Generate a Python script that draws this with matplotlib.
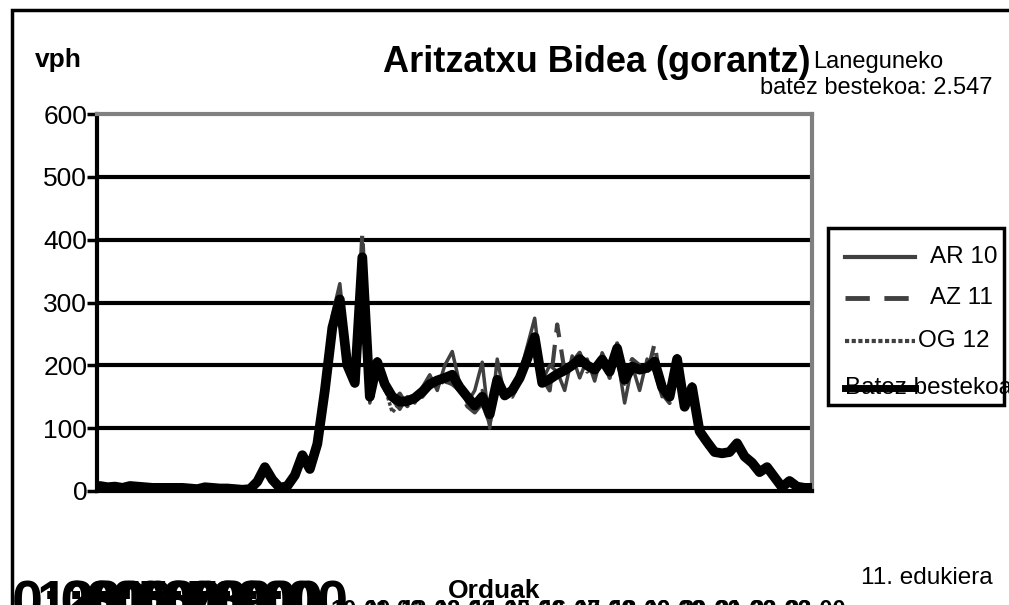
import matplotlib
matplotlib.use("Agg")
import matplotlib.pyplot as plt
from matplotlib.lines import Line2D
from matplotlib.patches import Rectangle

plt.rcParams['font.family'] = ['Liberation Sans', 'DejaVu Sans']

avg = [8,6,7,5,8,7,6,5,5,5,5,5,4,3,6,5,4,4,3,2,3,15,38,18,5,8,25,57,35,75,
       160,260,305,200,172,372,150,205,170,150,142,143,148,158,170,176,180,185,165,150,
       136,150,122,177,152,160,180,210,245,172,178,186,192,200,210,200,193,209,190,227,
       177,198,193,196,206,165,150,210,134,165,95,78,62,60,62,76,55,45,30,38,
       22,6,16,7,5,5]
ar10 = [10,5,8,6,7,9,5,6,4,6,5,6,3,4,7,4,5,3,4,2,4,12,35,20,6,10,28,60,33,80,
        175,280,330,215,180,360,140,200,160,145,130,150,140,165,185,160,200,222,170,140,
        160,205,100,210,150,165,185,230,275,175,200,190,160,215,180,210,175,220,195,215,
        140,200,160,210,190,150,170,200,140,160,100,70,65,55,60,70,50,42,28,35,
        20,5,12,5,4,4]
az11 = [7,7,6,5,9,6,7,5,6,4,5,5,5,3,5,6,4,5,2,2,3,18,40,16,4,7,22,55,36,70,
        150,250,290,195,168,410,160,210,180,140,155,135,150,150,165,170,175,170,160,135,
        125,140,108,165,155,150,175,200,235,180,160,265,190,205,220,190,200,215,180,235,
        180,210,200,185,235,155,140,215,128,170,90,82,58,62,58,80,58,48,32,40,
        24,8,18,8,6,5]
og12 = [8,6,7,5,8,6,6,5,5,5,5,4,4,3,6,5,4,4,3,2,3,15,37,18,5,8,26,56,36,76,
        158,255,300,200,170,350,145,200,165,125,140,150,145,160,165,180,170,190,160,145,
        130,160,115,170,150,155,180,215,240,170,180,190,200,195,215,200,190,205,185,230,
        170,195,200,190,200,170,150,205,130,170,95,78,62,60,62,76,55,45,30,38,
        22,6,16,7,5,5]
yticks = [0, 100, 200, 300, 400, 500, 600]
hour_labels = [f"{h}:00" for h in range(24)]

W, H = 1009, 605
fig = plt.figure(figsize=(W/100, H/100), dpi=100)
ax = fig.add_axes([97/W, 1-491/H, (812-97)/W, (491-114)/H])

x = list(range(len(avg)))
grey = '#404040'
ax.plot(x, ar10, color=grey, lw=2.5, zorder=3)
ax.plot(x, az11, color=grey, lw=3, ls=(0, (5, 3)), zorder=3)
ax.plot(x, og12, color=grey, lw=2.5, ls=(0, (1, 0.6)), zorder=3)
ax.plot(x, avg, color='black', lw=7, solid_joinstyle='round', solid_capstyle='round', zorder=4)

ax.set_xlim(-0.4, len(avg) - 1)
ax.set_ylim(0, 600)
ax.set_yticks(yticks)
ax.set_yticklabels([str(v) for v in yticks], fontsize=19)
ax.tick_params(axis='y', length=7, width=2.5, direction='out', pad=0, colors='black')
ax.set_xticks([])
for v in yticks[1:-1]:
    ax.axhline(v, color='black', lw=3, zorder=1)
ax.spines['left'].set_linewidth(3)
ax.spines['left'].set_color('black')
ax.spines['bottom'].set_linewidth(3)
ax.spines['bottom'].set_color('black')
ax.spines['top'].set_linewidth(3)
ax.spines['top'].set_color('#808080')
ax.spines['right'].set_linewidth(3)
ax.spines['right'].set_color('#808080')

# outer frame
fig.patches.append(Rectangle((12/W, -0.1), 1.2, 1 - 10/H + 0.1, transform=fig.transFigure,
                             fill=False, lw=2.5, edgecolor='black'))

# texts
fig.text(597/W, 1-62/H, "Aritzatxu Bidea (gorantz)", fontsize=26, fontweight='bold',
         ha='center', va='center')
fig.text(58/W, 1-60/H, "vph", fontsize=19, fontweight='bold', ha='center', va='center')
fig.text(878/W, 1-62/H, "Laneguneko", fontsize=17, ha='center', va='center')
fig.text(876/W, 1-88/H, "batez bestekoa: 2.547", fontsize=17, ha='center', va='center')
fig.text(927/W, 1-578/H, "11. edukiera", fontsize=17.5, ha='center', va='center')
fig.text(494/W, 1-591/H, "Orduak", fontsize=19, fontweight='bold', ha='center', va='center')

# clipped, overlapping hour labels at the bottom edge
for i, lab in enumerate(hour_labels[:10]):
    fig.text((12 + i * 25)/W, 1-580/H, lab, fontsize=40, fontweight='bold',
             ha='left', va='top')
for i, lab in enumerate(hour_labels[10:]):
    fig.text((330 + i * 35)/W, 1-599/H, lab, fontsize=17, fontweight='bold',
             ha='left', va='top')

# legend drawn manually
fig.patches.append(Rectangle((828/W, 1-405/H), (1004-828)/W, (405-228)/H,
                             transform=fig.transFigure, fill=False, lw=2.5,
                             edgecolor='black', facecolor='white'))
leg_items = [("AR 10", dict(color=grey, lw=3, ls='-'), 257, 930),
             ("AZ 11", dict(color=grey, lw=3.5, ls=(0, (5, 3))), 298, 930),
             ("OG 12", dict(color=grey, lw=3, ls=(0, (1, 0.6))), 341, 918),
             ("Batez bestekoa", dict(color='black', lw=5, ls='-'), 388, 845)]
for lab, style, yy, tx in leg_items:
    fig.add_artist(Line2D([845/W, 915/W], [1-yy/H, 1-yy/H], transform=fig.transFigure, **style))
    fig.text(tx/W, 1-yy/H, lab, fontsize=17.5, ha='left', va='center', zorder=1)

fig.savefig("out.png", dpi=100)
